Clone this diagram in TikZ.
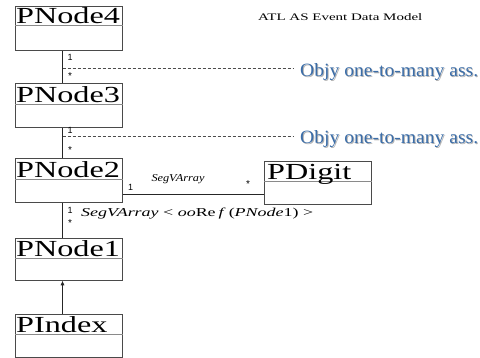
\documentclass[tikz,border=0pt]{standalone}
\usepackage{fontspec}
\setmainfont{Liberation Serif}
\newfontfamily\lsans{Liberation Sans}
\usetikzlibrary{arrows.meta}
\definecolor{objyblue}{HTML}{3B6DA8}
\definecolor{boxgray}{HTML}{4A4A4A}
\definecolor{sepgray}{HTML}{8A8A8A}
\newcommand\mytitle[1]{\scalebox{1.4}[1]{\fontsize{23}{23}\selectfont #1}}
\newcommand\objytext{\resizebox{178pt}{13pt}{Objy one-to-many ass.}}
\begin{document}
\begin{tikzpicture}[x=1pt,y=-1pt,
  classbox/.style={draw=boxgray, line width=0.8pt, fill=white, minimum width=107pt, anchor=north west, inner sep=0pt},
  sepline/.style={draw=sepgray, line width=0.8pt},
  titletext/.style={anchor=base west, inner sep=0pt},
  link/.style={draw=black!85, line width=0.6pt},
  dashlink/.style={draw=black!70, line width=0.5pt, dash pattern=on 3pt off 2pt},
  mult/.style={font=\lsans\fontsize{9}{9}\selectfont, inner sep=0pt, anchor=base west},
  star/.style={font=\lsans\fontsize{10}{10}\selectfont, inner sep=0pt},
  objy/.style={anchor=base west, inner sep=0pt, text=objyblue},
  objyshadow/.style={anchor=base west, inner sep=0pt, text=black!30}
]
\useasboundingbox (0,0) rectangle (480,358);

% class boxes
\node[classbox, minimum height=44pt] (n4) at (15,6) {};
\node[classbox, minimum height=44pt] (n3) at (15,83) {};
\node[classbox, minimum height=44pt] (n2) at (15,158) {};
\node[classbox, minimum height=42pt] (n1) at (15,238) {};
\node[classbox, minimum height=43pt] (pidx) at (15,314) {};
\node[classbox, minimum height=43pt] (pdig) at (264,161) {};

% separators
\draw[sepline] ([yshift=-19pt]n4.north west) -- ([yshift=-19pt]n4.north east);
\draw[sepline] ([yshift=-21pt]n3.north west) -- ([yshift=-21pt]n3.north east);
\draw[sepline] ([yshift=-21pt]n2.north west) -- ([yshift=-21pt]n2.north east);
\draw[sepline] ([yshift=-20pt]n1.north west) -- ([yshift=-20pt]n1.north east);
\draw[sepline] ([yshift=-20pt]pidx.north west) -- ([yshift=-20pt]pidx.north east);
\draw[sepline] ([yshift=-20pt]pdig.north west) -- ([yshift=-20pt]pdig.north east);

% titles
\node[titletext] (t4) at ([xshift=1pt,yshift=-17.5pt]n4.north west) {\mytitle{PNode4}};
\node[titletext] (t3) at ([xshift=1pt,yshift=-19.5pt]n3.north west) {\mytitle{PNode3}};
\node[titletext] (t2) at ([xshift=1pt,yshift=-19.5pt]n2.north west) {\mytitle{PNode2}};
\node[titletext] (t1) at ([xshift=1pt,yshift=-18.5pt]n1.north west) {\mytitle{PNode1}};
\node[titletext] (ti) at ([xshift=1pt,yshift=-18.5pt]pidx.north west) {\mytitle{PIndex}};
\node[titletext] (td) at ([xshift=3pt,yshift=-18.5pt]pdig.north west) {\mytitle{PDigit}};

% heading
\node[anchor=base west, inner sep=0pt] (head) at (258,21) {\scalebox{1.5}[1]{\fontsize{10}{10}\selectfont ATL AS Event Data Model}};

% spine
\coordinate (spine) at (62.5,0);
\draw[link] (n4.south -| spine) -- (n3.north -| spine);
\draw[link] (n3.south -| spine) -- (n2.north -| spine);
\draw[link] (n2.south -| spine) -- (n1.north -| spine);
\draw[link, -{Latex[length=4.5pt,width=4pt]}] (pidx.north -| spine) -- (n1.south -| spine);

% PNode2 -- PDigit
\coordinate (hl) at (0,194);
\draw[link] (n2.east |- hl) -- (pdig.west |- hl);
\node[mult] (m5) at (128,191) {1};
\node[star] (s5) at (248,184) {*};
\node[anchor=base, inner sep=0pt] (segv) at (178,182) {\resizebox{53pt}{7pt}{\itshape SegVArray}};

% Objy associations
\coordinate (d1) at (293,68);
\coordinate (d2) at (293,136);
\draw[dashlink] (spine |- d1) -- (d1);
\draw[dashlink] (spine |- d2) -- (d2);
\node[objyshadow] (o1s) at (301,78) {\objytext};
\node[objy] (o1) at (300,77) {\objytext};
\node[objyshadow] (o2s) at (301,145) {\objytext};
\node[objy] (o2) at (300,144) {\objytext};

% multiplicities on spine
\node[mult] (m1) at (67.5,61) {1};
\node[star] (s1) at (70,76) {*};
\node[mult] (m2) at (67.5,134) {1};
\node[star] (s2) at (70,150) {*};
\node[mult] (m3) at (67.5,214) {1};
\node[star] (s3) at (70,223) {*};

% association label PNode2 -- PNode1
\node[anchor=base west, inner sep=0pt] (lab3) at (81,217) {\resizebox{232pt}{8.5pt}{\textit{SegVArray}\ {<}\ \textit{oo}Re\,\textit{f}\,(\textit{PNode}1)\ {>}}};
\end{tikzpicture}
\end{document}
